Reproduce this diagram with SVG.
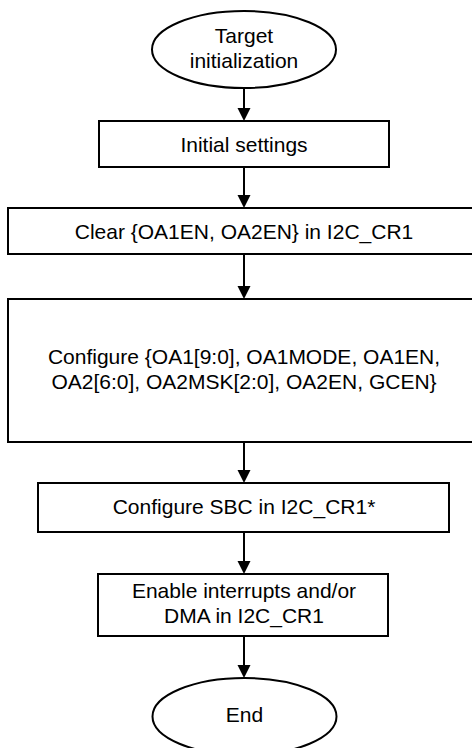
<svg xmlns="http://www.w3.org/2000/svg" width="472" height="748" viewBox="0 0 472 748">
<style>
.shape{fill:#fff;stroke:#000;stroke-width:2}
.lbl{font-family:"Liberation Sans",Arial,sans-serif;font-size:21px;fill:#000;text-anchor:middle}
.conn{stroke:#000;stroke-width:2;fill:none}
</style>
<defs>
<marker id="arr" markerUnits="userSpaceOnUse" markerWidth="14" markerHeight="14" refX="10" refY="6.5" orient="auto">
<path d="M0,0 L13,6.5 L0,13 Z" fill="#000"/>
</marker>
</defs>
<rect width="472" height="748" fill="#fff"/>
<g id="connectors">
<line class="conn" x1="244" y1="88" x2="244" y2="118" marker-end="url(#arr)"/>
<line class="conn" x1="244" y1="167" x2="244" y2="205" marker-end="url(#arr)"/>
<line class="conn" x1="244" y1="254" x2="244" y2="296" marker-end="url(#arr)"/>
<line class="conn" x1="244" y1="442" x2="244" y2="480" marker-end="url(#arr)"/>
<line class="conn" x1="244" y1="532" x2="244" y2="571" marker-end="url(#arr)"/>
<line class="conn" x1="244" y1="636" x2="244" y2="675" marker-end="url(#arr)"/>
</g>
<g id="start">
<ellipse class="shape" cx="244" cy="49.5" rx="92" ry="38.5"/>
<text class="lbl" x="244" y="43">Target</text>
<text class="lbl" x="244" y="68">initialization</text>
</g>
<g id="initial-settings">
<rect class="shape" x="99" y="121" width="290" height="46"/>
<text class="lbl" x="244" y="152">Initial settings</text>
</g>
<g id="clear">
<rect class="shape" x="8" y="208" width="472" height="46"/>
<text class="lbl" x="244" y="239">Clear {OA1EN, OA2EN} in I2C_CR1</text>
</g>
<g id="configure-oa">
<rect class="shape" x="8" y="299" width="472" height="143"/>
<text class="lbl" x="244" y="364">Configure {OA1[9:0], OA1MODE, OA1EN,</text>
<text class="lbl" x="244" y="389">OA2[6:0], OA2MSK[2:0], OA2EN, GCEN}</text>
</g>
<g id="configure-sbc">
<rect class="shape" x="38" y="483" width="411" height="49"/>
<text class="lbl" x="244" y="514">Configure SBC in I2C_CR1*</text>
</g>
<g id="enable">
<rect class="shape" x="98" y="574" width="290" height="62"/>
<text class="lbl" x="244" y="598">Enable interrupts and/or</text>
<text class="lbl" x="244" y="623">DMA in I2C_CR1</text>
</g>
<g id="end">
<ellipse class="shape" cx="244.5" cy="716.5" rx="92" ry="38.5"/>
<text class="lbl" x="244.5" y="722">End</text>
</g>
</svg>
